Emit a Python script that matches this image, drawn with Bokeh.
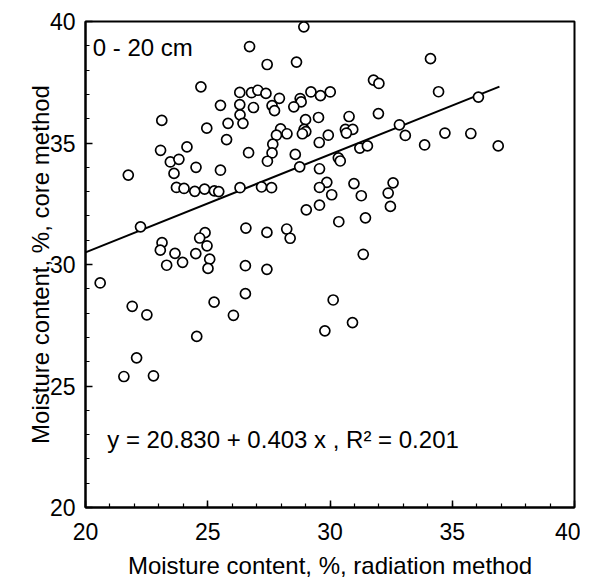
from bokeh.plotting import figure
from bokeh.models import Range1d, SingleIntervalTicker, Label
from bokeh.embed import file_html
from bokeh.resources import INLINE

# Radiation-method moisture content (%), x values
radiation = [
    28.93, 26.71, 34.11, 28.63, 27.43, 31.78, 32.00, 24.72, 26.31, 26.79,
    27.05, 27.38, 27.93, 28.78, 28.82, 29.22, 29.61, 30.01, 34.44, 36.07,
    25.52, 26.31, 26.87, 27.63, 27.73, 28.52, 26.32, 23.12, 24.96, 25.83,
    26.44, 29.53, 29.00, 30.78, 31.98, 27.98, 27.81, 28.24, 28.94, 29.01,
    28.87, 29.93, 30.63, 30.93, 30.67, 32.84, 33.08, 34.70, 35.76, 25.77,
    29.56, 27.66, 33.87, 31.22, 31.53, 36.88, 23.07, 24.15, 26.67, 27.63,
    28.58, 23.47, 23.82, 27.44, 30.34, 30.42, 28.76, 29.57, 24.52, 25.52,
    21.75, 23.62, 23.72, 24.03, 24.47, 24.87, 25.27, 25.45, 26.32, 27.20,
    27.61, 29.87, 29.57, 30.98, 32.58, 30.07, 31.28, 32.38, 32.47, 29.03,
    29.57, 30.36, 31.45, 22.25, 26.56, 27.42, 28.23, 28.37, 24.89, 24.67,
    23.13, 23.06, 23.66, 24.51, 24.97, 25.08, 23.32, 23.97, 25.01, 26.54,
    27.42, 31.36, 20.60, 26.54, 30.13, 25.26, 21.91, 22.51, 26.05, 30.92,
    29.79, 24.55, 22.09, 21.57, 22.78,
]
# Core-method moisture content (%), y values
core = [
    39.78, 38.97, 38.47, 38.33, 38.23, 37.59, 37.45, 37.31, 37.08, 37.07,
    37.17, 37.04, 36.84, 36.83, 36.69, 37.10, 36.95, 37.10, 37.11, 36.89,
    36.55, 36.58, 36.46, 36.54, 36.33, 36.49, 36.16, 35.93, 35.61, 35.81,
    35.81, 36.05, 35.96, 36.09, 36.21, 35.58, 35.32, 35.38, 35.56, 35.47,
    35.38, 35.32, 35.56, 35.56, 35.41, 35.75, 35.31, 35.41, 35.39, 35.14,
    35.02, 34.95, 34.92, 34.79, 34.88, 34.88, 34.70, 34.84, 34.60, 34.59,
    34.53, 34.22, 34.33, 34.25, 34.39, 34.26, 34.02, 33.94, 34.00, 33.88,
    33.68, 33.75, 33.17, 33.13, 33.01, 33.10, 33.03, 33.00, 33.16, 33.19,
    33.16, 33.38, 33.17, 33.33, 33.36, 32.87, 32.83, 32.94, 32.39, 32.25,
    32.44, 31.76, 31.92, 31.55, 31.50, 31.32, 31.46, 31.08, 31.31, 31.09,
    30.90, 30.59, 30.46, 30.45, 30.77, 30.22, 29.97, 30.09, 29.84, 29.95,
    29.80, 30.42, 29.24, 28.80, 28.54, 28.45, 28.28, 27.93, 27.91, 27.61,
    27.27, 27.04, 26.16, 25.39, 25.42,
]
# Regression line as drawn (end points)
fit_x = [20.0, 36.93]
fit_y = [30.50, 37.32]

depth_label = "0 - 20 cm"
equation_label = "y = 20.830 + 0.403 x , R\u00b2 = 0.201"
x_title = "Moisture content, %, radiation method"
y_title = "Moisture content, %, core method"

FONT = "Liberation Sans"

p = figure(width=580, height=581, output_backend="svg", toolbar_location=None,
           x_range=Range1d(20, 40), y_range=Range1d(20, 40),
           min_border_left=85, min_border_top=21, min_border_right=6,
           min_border_bottom=73)
p.grid.visible = False
p.outline_line_color = "black"
p.outline_line_width = 2
p.background_fill_color = "white"
p.border_fill_color = "white"

for ax in (p.xaxis[0], p.yaxis[0]):
    ax.ticker = SingleIntervalTicker(interval=5, num_minor_ticks=5)
    ax.axis_line_color = "black"
    ax.axis_line_width = 2
    ax.major_tick_in = 7
    ax.major_tick_out = 0
    ax.minor_tick_in = 4
    ax.minor_tick_out = 0
    ax.major_tick_line_width = 1.5
    ax.minor_tick_line_width = 1.2
    ax.major_tick_line_color = "black"
    ax.minor_tick_line_color = "black"
    ax.major_label_text_font = FONT
    ax.major_label_text_font_size = "23px"
    ax.major_label_text_color = "black"
    ax.axis_label_text_font = FONT
    ax.axis_label_text_font_size = "24px"
    ax.axis_label_text_font_style = "normal"
    ax.axis_label_text_color = "black"

p.xaxis.axis_label = x_title
p.yaxis.axis_label = y_title
p.xaxis.major_label_standoff = 15
p.yaxis.major_label_standoff = 10
p.xaxis.axis_label_standoff = 9
p.yaxis.axis_label_standoff = -7

p.line(fit_x, fit_y, line_color="black", line_width=2)
p.scatter(radiation, core, marker="circle", size=10, fill_color="white",
          line_color="black", line_width=1.7)

p.add_layout(Label(x=20.3, y=38.93, text=depth_label, text_font=FONT,
                   text_font_size="24px", text_color="black",
                   text_baseline="alphabetic"))
p.add_layout(Label(x=20.89, y=22.81, text=equation_label, text_font=FONT,
                   text_font_size="24px", text_color="black",
                   text_baseline="alphabetic"))

open("out.html", "w").write(file_html(p, INLINE))
